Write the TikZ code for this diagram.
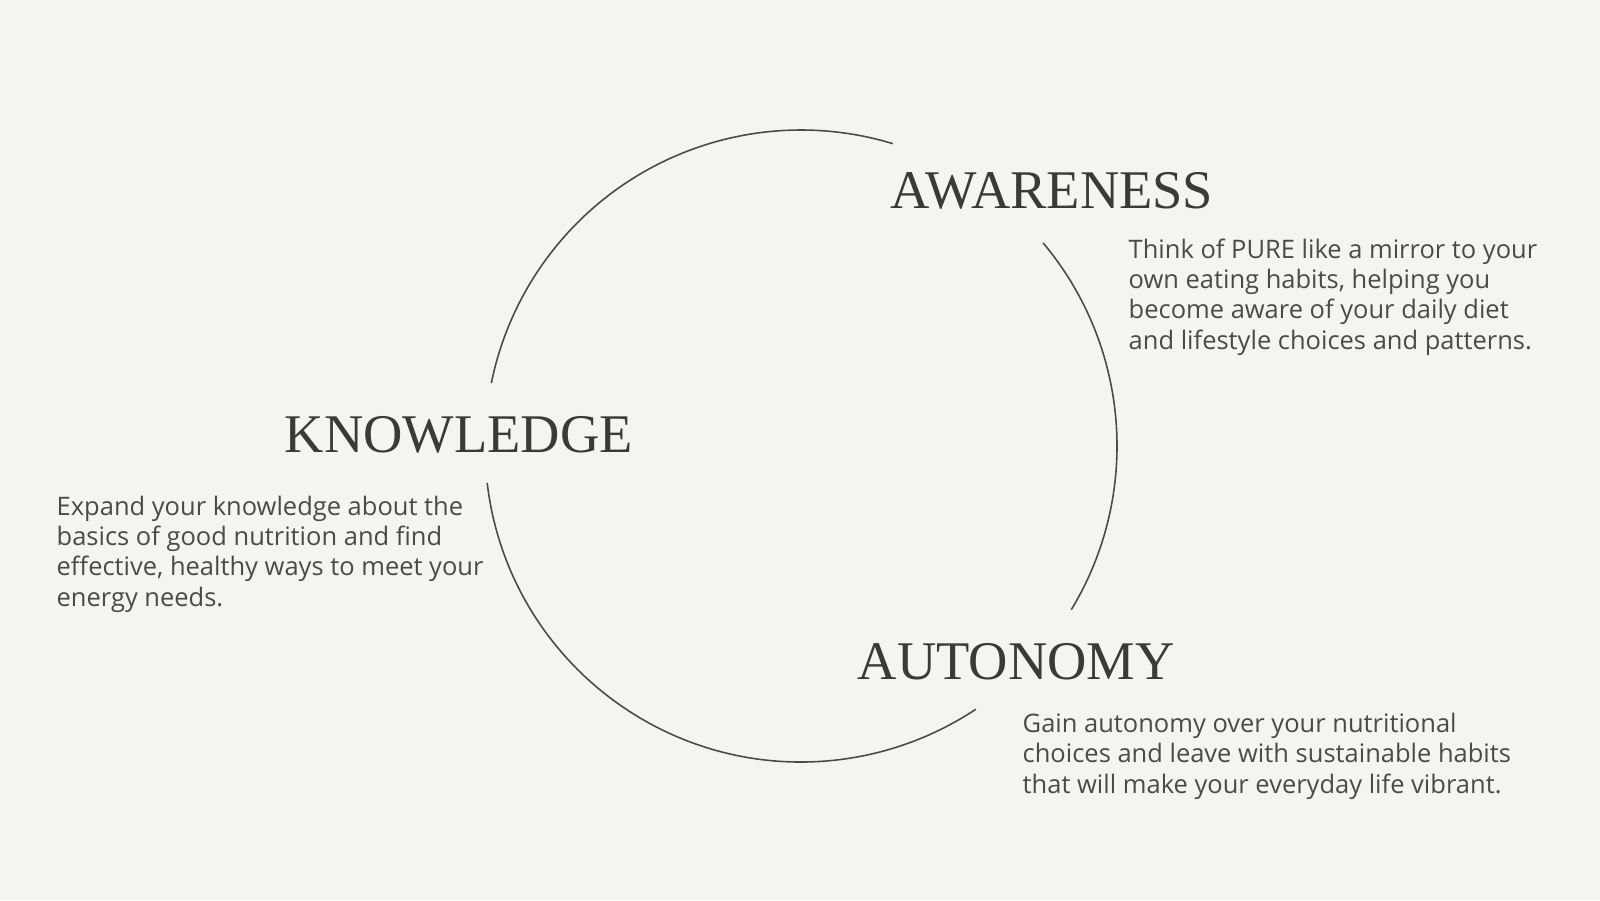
\documentclass[tikz,border=0pt]{standalone}
\usepackage{fontspec}
\setmainfont{Liberation Serif}
\newfontfamily\blurbfont{Open Sans}
\usetikzlibrary{positioning}
\definecolor{paper}{HTML}{F4F5F0}
\definecolor{ink}{HTML}{3B3B36}
\definecolor{softink}{HTML}{4A4A46}

\begin{document}
\begin{tikzpicture}[
    head/.style={anchor=base west, inner sep=0pt, text=ink, font=\fontsize{15.5}{18}\selectfont},
    blurb/.style={anchor=base west, inner sep=0pt, align=left, text=softink, font=\blurbfont\fontsize{7.25}{8.6}\selectfont},
    ring/.style={draw=softink, line width=0.45pt},
]
\fill[paper] (0,0) rectangle (16,9);
\useasboundingbox (0,0) rectangle (16,9);
\coordinate (c) at (8.01,4.54);

% the broken circle
\draw[ring] ([shift={(73.1:3.16)}]c) arc (73.1:168.5:3.16);
\draw[ring] ([shift={(186.7:3.16)}]c) arc (186.7:303.6:3.16);
\draw[ring] ([shift={(-31.2:3.16)}]c) arc (-31.2:40.0:3.16);

% Awareness (blurb anchored on its last line)
\node[head] (aware) at (8.90,6.91) {AWARENESS};
\node[blurb] (awaretxt) at (11.28,5.51) {Think of PURE like a mirror to your\\own eating habits, helping you\\become aware of your daily diet\\and lifestyle choices and patterns.};

% Knowledge
\node[head] (know) at (2.84,4.48) {KNOWLEDGE};
\node[blurb] (knowtxt) at (0.56,2.94) {Expand your knowledge about the\\basics of good nutrition and find\\effective, healthy ways to meet your\\energy needs.};

% Autonomy
\node[head] (auto) at (8.57,2.21) {AUTONOMY};
\node[blurb] (autotxt) at (10.22,1.07) {Gain autonomy over your nutritional\\choices and leave with sustainable habits\\that will make your everyday life vibrant.};
\end{tikzpicture}
\end{document}
